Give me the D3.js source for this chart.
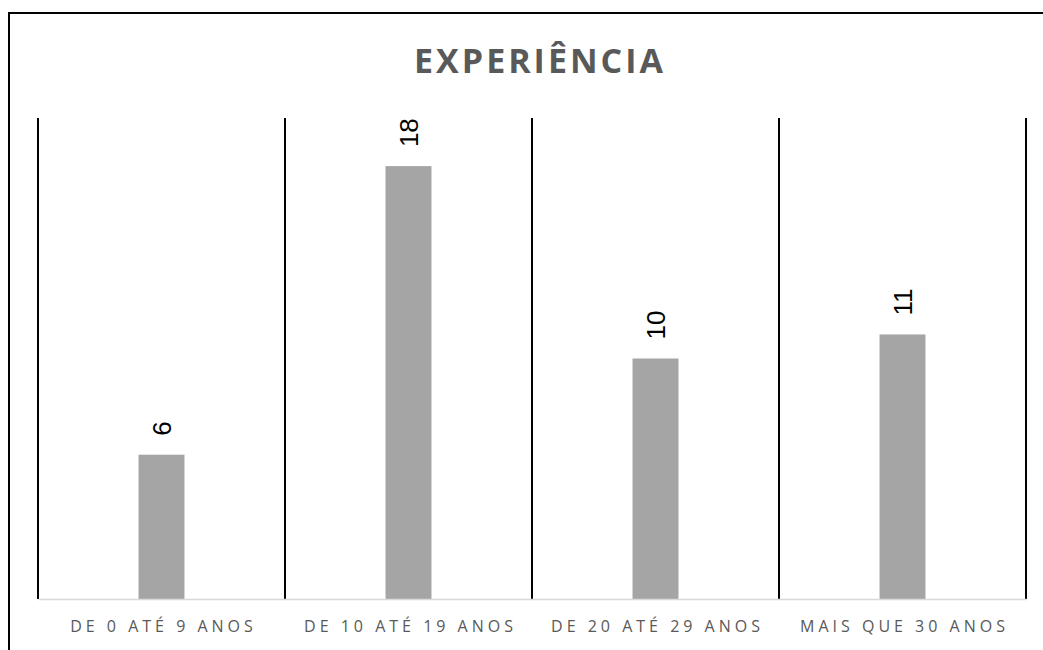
<!DOCTYPE html>
<html>
<head>
<meta charset="utf-8">
<script src="https://cdn.jsdelivr.net/npm/d3@7"></script>
<style>
  html, body { margin: 0; padding: 0; background: #fff; }
</style>
</head>
<body>
<div id="chart"></div>
<script>
const categories = ["DE 0 ATÉ 9 ANOS", "DE 10 ATÉ 19 ANOS", "DE 20 ATÉ 29 ANOS", "MAIS QUE 30 ANOS"];
const values = [6, 18, 10, 11];
const yDomain = [0, 20];

const width = 1043;
const height = 650;
const margin = { top: 118, right: 17, bottom: 51, left: 38 };

const svg = d3.select("#chart")
    .append("svg")
    .attr("width", width)
    .attr("height", height)
    .attr("viewBox", [0, 0, width, height]);

// Outer frame (only top and left visible, rest cropped)
svg.append("path")
    .attr("d", `M9,${height} L9,13 L${width},13`)
    .attr("fill", "none")
    .attr("stroke", "#000")
    .attr("stroke-width", 2);

// Title
svg.append("text")
    .attr("x", 540)
    .attr("y", 73)
    .attr("text-anchor", "middle")
    .attr("fill", "#595959")
    .style("font-family", "'Open Sans', 'Noto Sans', sans-serif")
    .style("font-size", "34px")
    .style("font-weight", "bold")
    .style("letter-spacing", "3px")
    .text("EXPERIÊNCIA");

const x = d3.scaleBand()
    .domain(categories)
    .range([margin.left, width - margin.right])
    .paddingInner(0)
    .paddingOuter(0);

const y = d3.scaleLinear()
    .domain(yDomain)
    .range([height - margin.bottom, margin.top]);

const barWidth = x.bandwidth() * 0.186;

// Category separators
const seps = categories.map(c => x(c)).concat([x(categories[categories.length - 1]) + x.bandwidth()]);
svg.append("g")
    .selectAll("line")
    .data(seps)
    .join("line")
    .attr("x1", d => d)
    .attr("x2", d => d)
    .attr("y1", y(yDomain[1]))
    .attr("y2", y(0))
    .attr("stroke", "#000")
    .attr("stroke-width", 2);

// Bars
svg.append("g")
    .selectAll("rect")
    .data(values)
    .join("rect")
    .attr("x", (d, i) => x(categories[i]) + x.bandwidth() / 2 - barWidth / 2)
    .attr("y", d => y(d))
    .attr("width", barWidth)
    .attr("height", d => y(0) - y(d))
    .attr("fill", "#a5a5a5");

// Baseline axis
const xAxis = svg.append("g")
    .attr("transform", `translate(0,${y(0)})`)
    .call(d3.axisBottom(x).tickSize(0).tickPadding(22));
xAxis.select(".domain").attr("stroke", "#d9d9d9").attr("stroke-width", 1.5);
xAxis.selectAll("text")
    .attr("fill", "#595959")
    .attr("dx", "2px")
    .style("font-family", "'Open Sans', 'Noto Sans', sans-serif")
    .style("font-size", "16px")
    .style("letter-spacing", "4px");

// Value labels, rotated
svg.append("g")
    .selectAll("text")
    .data(values)
    .join("text")
    .attr("transform", (d, i) => `translate(${x(categories[i]) + x.bandwidth() / 2 + 9},${y(d) - 19}) rotate(-90)`)
    .attr("text-anchor", "start")
    .attr("fill", "#000")
    .style("font-family", "'Liberation Sans', Arial, sans-serif")
    .style("font-size", "26px")
    .text(d => d);
</script>
</body>
</html>
